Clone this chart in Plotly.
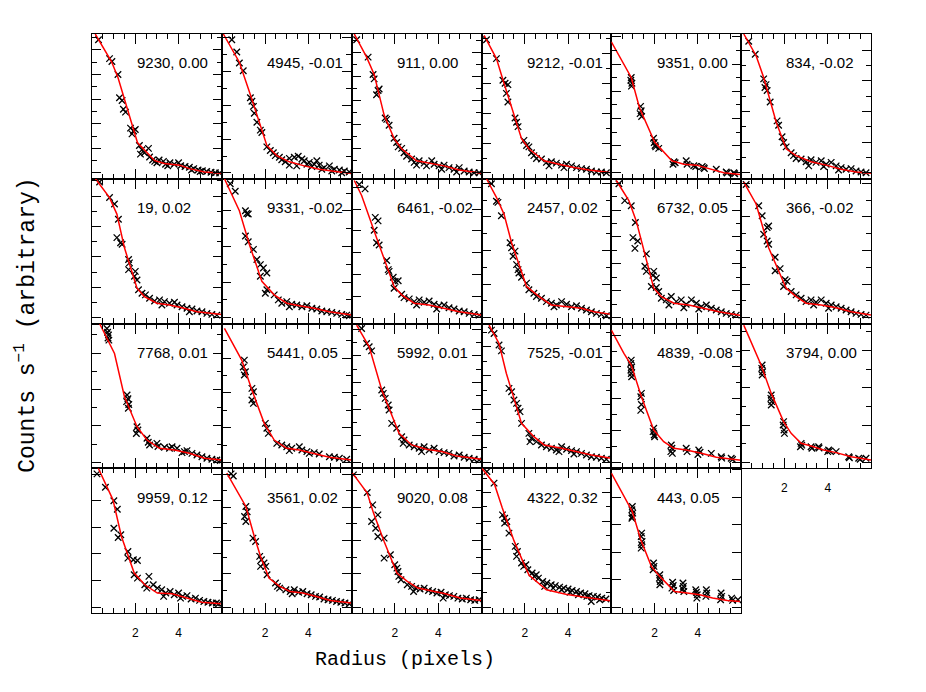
import plotly.graph_objects as go

# ---------------- data (radius in pixels, normalised counts) ----------------
ids = ["9230", "4945", "911", "9212", "9351", "834",
       "19", "9331", "6461", "2457", "6732", "366",
       "7768", "5441", "5992", "7525", "4839", "3794",
       "9959", "3561", "9020", "4322", "443"]
shifts = ["0.00", "-0.01", "0.00", "-0.01", "0.00", "-0.02",
          "0.02", "-0.02", "-0.02", "0.02", "0.05", "-0.02",
          "0.01", "0.05", "0.01", "-0.01", "-0.08", "0.00",
          "0.12", "0.02", "0.08", "0.32", "0.05"]
ytick_step = [0.085, 0.117, 0.083, 0.103, 0.094, 0.106,
              0.105, 0.123, 0.15, 0.116, 0.093, 0.116,
              0.126, 0.12, 0.092, 0.1, 0.11, 0.129,
              0.184, 0.115, 0.115, 0.099, 0.19]
x_tickvals = [0, 2, 4, 6]
x_ticktext = ["", "2", "4", ""]

pts_9230 = [(0.3,0.96),(0.81,0.83),(0.92,0.81),(1.2,0.72),(1.27,0.56),(1.39,0.54),(1.45,0.48),(1.55,0.46),(1.78,0.35),(1.85,0.31),(1.92,0.33),(2.0,0.34),(2.19,0.23),(2.24,0.17),(2.31,0.20),(2.42,0.18),(2.61,0.21),(2.66,0.15),(2.8,0.13),(2.9,0.12),(3.0,0.11),(3.1,0.13),(3.3,0.12),(3.4,0.10),(3.5,0.09),(3.6,0.11),(3.8,0.10),(4.0,0.11),(4.1,0.09),(4.3,0.085),(4.5,0.08),(4.6,0.06),(4.7,0.07),(4.9,0.06),(5.0,0.05),(5.1,0.055),(5.3,0.05),(5.5,0.045),(5.7,0.042),(5.9,0.04)]
fit_9230 = [(0.15,1.0),(0.9,0.81),(1.2,0.70),(2.1,0.25),(2.9,0.125),(3.35,0.105),(4.05,0.094),(4.5,0.07),(5.2,0.047),(6.0,0.038)]

pts_4945 = [(0.46,0.96),(0.69,0.876),(0.81,0.80),(0.99,0.746),(1.32,0.56),(1.39,0.535),(1.46,0.50),(1.50,0.453),(1.62,0.39),(1.78,0.336),(1.85,0.32),(2.08,0.22),(2.24,0.195),(2.38,0.18),(2.47,0.16),(2.66,0.148),(2.77,0.131),(2.93,0.117),(3.12,0.141),(3.35,0.148),(3.53,0.155),(3.70,0.136),(3.81,0.124),(4.04,0.113),(4.27,0.10),(4.39,0.124),(4.50,0.094),(4.73,0.077),(4.97,0.089),(5.20,0.066),(5.43,0.061),(5.66,0.054),(5.89,0.047),(3.12,0.094),(3.46,0.089),(3.93,0.10),(4.16,0.085),(4.62,0.066),(5.08,0.054),(5.54,0.042)]
fit_4945 = [(0.07,1.0),(0.81,0.805),(1.32,0.58),(2.08,0.23),(2.54,0.16),(3.12,0.117),(3.81,0.089),(4.5,0.066),(5.43,0.047),(6.0,0.038)]

pts_911 = [(0.23,0.96),(0.76,0.84),(0.99,0.72),(1.04,0.69),(1.22,0.61),(1.15,0.58),(1.27,0.62),(1.55,0.42),(1.62,0.41),(1.73,0.37),(1.96,0.28),(2.08,0.25),(2.15,0.22),(2.31,0.21),(2.42,0.18),(2.54,0.155),(2.77,0.136),(2.89,0.113),(3.12,0.124),(3.35,0.108),(3.7,0.124),(3.81,0.10),(4.04,0.089),(4.27,0.094),(4.5,0.077),(4.73,0.066),(4.97,0.077),(5.2,0.054),(5.43,0.047),(5.66,0.042),(5.89,0.042),(3.0,0.094),(3.46,0.089),(4.16,0.066),(4.85,0.047)]
fit_911 = [(0.12,1.0),(0.69,0.84),(1.04,0.72),(1.5,0.44),(1.96,0.277),(2.31,0.207),(3.0,0.124),(3.58,0.108),(4.27,0.089),(4.97,0.061),(6.0,0.038)]

pts_9212 = [(0.23,0.96),(0.69,0.83),(0.99,0.68),(1.09,0.66),(1.22,0.65),(1.15,0.59),(1.22,0.53),(1.55,0.42),(1.62,0.39),(1.69,0.36),(1.96,0.265),(2.08,0.23),(2.19,0.22),(2.31,0.18),(2.42,0.16),(2.54,0.14),(2.77,0.136),(3.0,0.113),(3.23,0.117),(3.46,0.108),(3.7,0.094),(3.93,0.10),(4.16,0.089),(4.39,0.077),(4.62,0.07),(4.85,0.066),(5.08,0.054),(5.31,0.047),(5.54,0.047),(5.77,0.042),(3.12,0.089),(3.81,0.077)]
fit_9212 = [(0.12,0.99),(0.69,0.83),(1.04,0.66),(1.85,0.277),(2.19,0.207),(2.89,0.124),(3.58,0.10),(4.27,0.077),(4.97,0.061),(6.0,0.042)]

pts_9351 = [(0.92,0.70),(0.9,0.68),(0.95,0.66),(0.93,0.64),(1.35,0.50),(1.38,0.47),(1.33,0.45),(1.4,0.43),(1.95,0.28),(1.98,0.25),(2.02,0.23),(2.05,0.22),(2.19,0.21),(2.89,0.117),(2.85,0.10),(2.95,0.11),(3.46,0.124),(3.5,0.10),(3.81,0.09),(3.9,0.085),(4.27,0.077),(4.3,0.07),(4.2,0.085),(4.85,0.066),(5.31,0.047),(5.35,0.04),(5.66,0.042),(5.7,0.035)]
fit_9351 = [(0.0,0.946),(0.92,0.70),(1.3,0.49),(2.0,0.254),(2.8,0.124),(3.35,0.10),(3.93,0.094),(4.62,0.066),(5.2,0.042),(5.95,0.03)]

pts_834 = [(0.35,0.95),(0.65,0.86),(1.04,0.69),(1.15,0.65),(1.2,0.61),(1.1,0.63),(1.34,0.53),(1.66,0.40),(1.73,0.37),(1.89,0.29),(1.96,0.25),(2.08,0.22),(2.31,0.18),(2.42,0.16),(2.54,0.14),(2.77,0.136),(3.0,0.117),(3.23,0.131),(3.46,0.113),(3.7,0.124),(3.93,0.10),(4.16,0.113),(4.39,0.089),(4.62,0.077),(4.85,0.066),(5.08,0.07),(5.31,0.054),(5.54,0.047),(5.77,0.042),(3.12,0.089),(3.81,0.085),(4.5,0.061)]
fit_834 = [(0.12,1.0),(0.69,0.85),(1.04,0.70),(1.62,0.39),(2.08,0.207),(2.54,0.16),(3.23,0.117),(3.93,0.094),(4.62,0.066),(5.31,0.047),(6.0,0.038)]

pts_19 = [(0.35,0.977),(0.81,0.87),(1.04,0.826),(1.22,0.72),(1.15,0.593),(1.32,0.558),(1.39,0.547),(1.69,0.442),(1.73,0.419),(1.69,0.372),(2.0,0.36),(2.08,0.30),(1.96,0.326),(2.15,0.233),(2.31,0.209),(2.47,0.198),(2.66,0.174),(2.89,0.156),(3.12,0.163),(3.35,0.151),(3.58,0.14),(3.81,0.147),(3.93,0.128),(4.16,0.116),(4.39,0.105),(4.62,0.10),(4.85,0.086),(5.08,0.081),(5.31,0.07),(5.54,0.063),(5.77,0.058),(3.23,0.128),(4.5,0.081)]
fit_19 = [(0.16,1.0),(0.81,0.87),(1.15,0.756),(1.5,0.523),(2.08,0.244),(2.42,0.186),(3.0,0.14),(3.58,0.128),(4.16,0.109),(4.85,0.081),(6.0,0.063)]

pts_9331 = [(0.39,0.965),(0.62,0.914),(1.09,0.779),(1.22,0.756),(1.15,0.76),(1.09,0.605),(1.22,0.565),(1.46,0.512),(1.62,0.442),(1.78,0.407),(1.92,0.384),(2.08,0.349),(1.78,0.326),(2.08,0.233),(2.01,0.209),(2.42,0.198),(2.61,0.163),(2.77,0.14),(3.0,0.151),(3.23,0.133),(3.46,0.128),(3.7,0.116),(3.93,0.123),(4.16,0.105),(4.39,0.10),(4.62,0.086),(4.85,0.081),(5.08,0.077),(5.31,0.07),(5.54,0.063),(5.77,0.058),(5.89,0.053),(3.12,0.116)]
fit_9331 = [(0.12,1.0),(0.81,0.779),(1.27,0.547),(1.85,0.291),(2.42,0.198),(3.0,0.14),(3.58,0.123),(4.27,0.105),(4.97,0.081),(6.0,0.058)]

pts_6461 = [(0.35,0.96),(0.62,0.93),(1.09,0.733),(1.22,0.709),(1.04,0.644),(1.15,0.558),(1.27,0.542),(1.62,0.435),(1.69,0.372),(1.73,0.36),(1.92,0.319),(2.01,0.291),(2.15,0.295),(1.96,0.244),(2.31,0.202),(2.42,0.179),(2.66,0.17),(2.89,0.151),(3.12,0.163),(3.35,0.147),(3.58,0.156),(3.81,0.133),(4.04,0.123),(4.27,0.128),(4.5,0.109),(4.73,0.10),(4.97,0.086),(5.2,0.081),(5.43,0.07),(5.66,0.063),(5.89,0.058),(3.0,0.128),(3.93,0.10)]
fit_6461 = [(0.12,0.988),(0.46,0.884),(1.15,0.593),(1.96,0.256),(2.31,0.198),(2.89,0.14),(3.58,0.128),(4.27,0.105),(4.97,0.081),(6.0,0.058)]

pts_2457 = [(0.46,0.965),(0.69,0.844),(0.76,0.837),(0.92,0.744),(1.32,0.558),(1.39,0.523),(1.46,0.465),(1.55,0.50),(1.62,0.407),(1.69,0.372),(1.73,0.349),(1.85,0.319),(2.08,0.279),(2.19,0.233),(2.42,0.209),(2.54,0.186),(2.77,0.174),(3.0,0.151),(3.23,0.14),(3.46,0.128),(3.7,0.151),(3.93,0.133),(4.16,0.116),(4.39,0.123),(4.62,0.105),(4.85,0.093),(5.08,0.081),(5.31,0.07),(5.54,0.063),(5.77,0.053),(3.35,0.116)]
fit_2457 = [(0.23,1.0),(0.69,0.872),(1.04,0.756),(1.39,0.558),(2.08,0.256),(2.66,0.186),(3.23,0.128),(3.93,0.116),(4.62,0.105),(5.2,0.081),(6.0,0.063)]

pts_6732 = [(0.35,0.965),(0.62,0.849),(0.92,0.814),(1.11,0.698),(1.0,0.593),(1.22,0.57),(1.09,0.519),(1.62,0.481),(1.55,0.395),(1.62,0.36),(1.96,0.36),(1.92,0.333),(2.08,0.314),(1.85,0.256),(2.08,0.249),(2.19,0.221),(2.31,0.174),(2.54,0.163),(2.77,0.186),(3.0,0.151),(3.23,0.163),(3.46,0.133),(3.7,0.163),(3.93,0.14),(4.16,0.116),(4.39,0.128),(4.62,0.105),(4.85,0.093),(5.08,0.081),(5.31,0.07),(5.54,0.063),(5.77,0.058),(2.66,0.128),(3.35,0.109),(4.04,0.10)]
fit_6732 = [(0.23,0.988),(0.81,0.849),(1.15,0.709),(1.5,0.50),(1.96,0.244),(2.31,0.186),(2.89,0.14),(3.58,0.128),(4.27,0.105),(4.97,0.081),(6.0,0.056)]

pts_366 = [(0.23,0.96),(0.81,0.814),(0.97,0.744),(1.2,0.663),(1.27,0.674),(1.04,0.616),(1.2,0.57),(1.27,0.547),(1.57,0.458),(1.57,0.365),(1.8,0.379),(2.03,0.302),(2.12,0.291),(1.96,0.256),(2.31,0.221),(2.54,0.198),(2.77,0.174),(3.0,0.151),(3.23,0.163),(3.46,0.147),(3.7,0.163),(3.93,0.14),(4.16,0.128),(4.39,0.116),(4.62,0.105),(4.85,0.093),(5.08,0.081),(5.31,0.07),(5.54,0.063),(5.77,0.058),(3.35,0.128),(4.04,0.105)]
fit_366 = [(0.12,0.977),(0.69,0.826),(1.27,0.523),(1.85,0.314),(2.08,0.244),(2.54,0.186),(3.0,0.14),(3.7,0.128),(4.39,0.109),(5.08,0.081),(6.0,0.058)]

pts_7768 = [(0.69,0.966),(0.72,0.94),(0.76,0.92),(0.74,0.90),(0.78,0.885),(1.62,0.506),(1.66,0.48),(1.6,0.46),(1.7,0.44),(1.68,0.414),(2.08,0.287),(2.12,0.264),(2.05,0.24),(2.54,0.207),(2.6,0.18),(2.66,0.161),(3.0,0.172),(3.05,0.15),(3.58,0.138),(3.7,0.149),(3.93,0.138),(4.27,0.115),(4.39,0.122),(4.62,0.103),(4.85,0.092),(5.08,0.08),(5.31,0.069),(5.54,0.062),(5.77,0.057),(5.93,0.053),(3.35,0.145),(4.16,0.108)]
fit_7768 = [(0.35,1.0),(1.04,0.793),(1.5,0.494),(2.08,0.287),(2.54,0.195),(3.12,0.138),(3.81,0.126),(4.5,0.103),(5.2,0.069),(6.0,0.057)]

pts_5441 = [(1.04,0.747),(0.99,0.70),(1.04,0.644),(1.09,0.667),(1.39,0.552),(1.46,0.529),(1.39,0.471),(1.46,0.448),(2.01,0.31),(2.08,0.276),(2.15,0.241),(2.54,0.172),(2.77,0.161),(3.0,0.149),(3.23,0.138),(3.58,0.149),(3.7,0.126),(3.93,0.115),(4.04,0.103),(4.27,0.108),(4.5,0.099),(4.97,0.08),(5.2,0.076),(5.43,0.069),(5.77,0.062),(3.12,0.122)]
fit_5441 = [(0.12,0.966),(0.92,0.747),(1.39,0.54),(1.96,0.31),(2.42,0.195),(3.0,0.138),(3.58,0.126),(4.27,0.103),(4.97,0.076),(6.0,0.057)]

pts_5992 = [(0.46,0.966),(0.69,0.862),(0.81,0.839),(0.92,0.811),(1.39,0.54),(1.46,0.517),(1.55,0.483),(1.69,0.437),(1.73,0.402),(1.85,0.31),(2.08,0.276),(2.31,0.218),(2.42,0.195),(2.38,0.172),(2.66,0.161),(2.89,0.149),(3.12,0.138),(3.35,0.149),(3.58,0.126),(3.81,0.138),(4.04,0.115),(4.27,0.108),(4.5,0.103),(4.73,0.085),(4.97,0.092),(5.2,0.076),(5.43,0.069),(5.66,0.062),(5.89,0.057),(3.23,0.115)]
fit_5992 = [(0.23,0.989),(0.81,0.839),(1.39,0.54),(2.19,0.241),(2.77,0.161),(3.46,0.131),(4.16,0.115),(4.85,0.085),(6.0,0.062)]

pts_7525 = [(0.46,0.954),(0.58,0.931),(0.81,0.851),(0.92,0.811),(1.27,0.552),(1.39,0.529),(1.5,0.471),(1.62,0.448),(1.69,0.414),(1.78,0.391),(1.85,0.31),(2.19,0.241),(2.31,0.207),(2.24,0.184),(2.54,0.184),(2.77,0.161),(3.0,0.149),(3.23,0.138),(3.46,0.126),(3.7,0.149),(3.93,0.131),(4.16,0.122),(4.39,0.115),(4.62,0.103),(4.85,0.092),(5.08,0.08),(5.31,0.076),(5.54,0.069),(5.77,0.062),(3.58,0.115),(4.27,0.099)]
fit_7525 = [(0.35,0.989),(0.81,0.862),(1.15,0.655),(1.85,0.31),(2.42,0.218),(2.89,0.161),(3.7,0.138),(4.39,0.115),(5.08,0.092),(6.0,0.069)]

pts_4839 = [(0.92,0.747),(0.9,0.724),(0.94,0.70),(0.9,0.678),(0.92,0.655),(0.94,0.632),(1.39,0.517),(1.36,0.494),(1.39,0.44),(1.36,0.40),(1.96,0.276),(1.93,0.253),(1.98,0.23),(2.0,0.218),(2.77,0.161),(2.8,0.138),(2.75,0.115),(2.82,0.103),(3.46,0.138),(3.5,0.115),(4.04,0.126),(4.1,0.11),(4.0,0.095),(4.62,0.103),(5.08,0.08),(5.1,0.07),(5.54,0.069),(5.6,0.06)]
fit_4839 = [(0.0,0.954),(0.58,0.793),(0.92,0.713),(1.39,0.494),(1.96,0.264),(2.42,0.184),(2.89,0.138),(3.46,0.126),(4.16,0.103),(4.85,0.076),(6.0,0.055)]

pts_3794 = [(0.97,0.713),(0.95,0.69),(0.99,0.667),(0.97,0.644),(1.39,0.506),(1.37,0.483),(1.41,0.46),(1.39,0.437),(1.96,0.322),(1.94,0.299),(1.98,0.264),(2.0,0.241),(2.77,0.172),(2.8,0.16),(2.74,0.149),(3.23,0.149),(3.27,0.138),(3.58,0.149),(3.6,0.14),(4.04,0.126),(4.1,0.12),(4.0,0.115),(4.39,0.115),(4.97,0.08),(5.0,0.072),(5.43,0.069),(5.5,0.062),(5.77,0.069)]
fit_3794 = [(0.12,0.989),(0.92,0.713),(1.39,0.517),(1.96,0.322),(2.31,0.241),(2.77,0.172),(3.23,0.154),(3.81,0.126),(4.39,0.108),(5.08,0.08),(6.0,0.057)]

pts_9959 = [(0.23,0.961),(0.62,0.869),(1.01,0.775),(1.17,0.717),(1.01,0.586),(1.21,0.522),(1.33,0.54),(1.66,0.425),(1.66,0.379),(1.91,0.368),(2.1,0.363),(1.95,0.264),(2.1,0.241),(2.63,0.253),(2.44,0.195),(2.53,0.172),(2.83,0.195),(3.02,0.172),(3.22,0.161),(3.41,0.138),(3.61,0.149),(3.8,0.126),(4.0,0.138),(4.19,0.115),(4.39,0.12),(4.58,0.097),(4.78,0.103),(4.97,0.087),(5.17,0.08),(5.36,0.074),(5.56,0.069),(5.75,0.069),(5.85,0.064),(3.31,0.115),(4.09,0.103)]
fit_9959 = [(0.29,1.0),(0.68,0.874),(0.97,0.782),(1.36,0.529),(1.95,0.276),(2.44,0.195),(3.02,0.138),(3.7,0.133),(4.39,0.103),(5.07,0.074),(5.95,0.064)]

pts_3561 = [(0.43,0.961),(0.53,0.947),(1.11,0.736),(1.05,0.667),(1.11,0.632),(1.17,0.70),(1.44,0.517),(1.56,0.494),(1.75,0.391),(1.83,0.368),(1.95,0.345),(2.03,0.322),(1.79,0.322),(2.09,0.264),(2.48,0.207),(2.57,0.184),(2.67,0.172),(2.96,0.161),(3.16,0.149),(3.35,0.161),(3.55,0.143),(3.74,0.149),(3.94,0.133),(4.13,0.126),(4.33,0.115),(4.52,0.11),(4.72,0.097),(4.91,0.092),(5.11,0.087),(5.3,0.08),(5.5,0.074),(5.69,0.069),(5.89,0.064),(3.25,0.133)]
fit_3561 = [(0.23,0.966),(1.11,0.736),(1.5,0.529),(1.79,0.391),(2.18,0.241),(2.67,0.184),(3.16,0.149),(3.74,0.138),(4.33,0.115),(5.01,0.087),(5.98,0.069)]

pts_9020 = [(0.08,0.954),(0.72,0.832),(0.97,0.747),(0.92,0.632),(1.11,0.586),(1.21,0.678),(1.21,0.529),(1.5,0.517),(1.5,0.379),(1.79,0.402),(1.99,0.333),(2.09,0.31),(2.14,0.287),(2.18,0.253),(2.28,0.23),(2.57,0.195),(2.77,0.184),(2.96,0.172),(3.16,0.166),(3.35,0.172),(3.55,0.156),(3.74,0.149),(3.94,0.138),(4.13,0.143),(4.33,0.126),(4.52,0.12),(4.72,0.115),(4.91,0.103),(5.11,0.097),(5.3,0.103),(5.5,0.092),(5.69,0.087),(5.89,0.092),(2.86,0.149),(4.23,0.103)]
fit_9020 = [(0.04,0.966),(0.72,0.828),(1.01,0.69),(1.5,0.494),(2.09,0.276),(2.57,0.218),(3.06,0.172),(3.65,0.156),(4.33,0.133),(5.01,0.103),(5.98,0.087)]

pts_4322 = [(0.25,0.977),(0.58,0.897),(0.97,0.678),(1.07,0.655),(1.17,0.632),(1.07,0.621),(1.27,0.552),(1.56,0.46),(1.66,0.425),(1.62,0.391),(1.85,0.345),(1.95,0.322),(2.05,0.333),(2.14,0.299),(2.34,0.276),(2.44,0.253),(2.53,0.264),(2.63,0.241),(2.83,0.218),(3.02,0.207),(3.22,0.195),(3.41,0.189),(3.61,0.179),(3.8,0.172),(4.0,0.166),(4.19,0.156),(4.39,0.149),(4.58,0.138),(4.78,0.133),(4.97,0.12),(5.07,0.08),(5.17,0.115),(5.36,0.11),(5.56,0.103),(5.75,0.097),(2.92,0.184),(3.31,0.172),(3.7,0.161),(4.09,0.143),(4.48,0.126),(4.87,0.115),(5.46,0.092)]
fit_4322 = [(0.02,1.0),(0.6,0.89),(0.95,0.73),(1.5,0.50),(1.9,0.36),(2.2,0.26),(3.0,0.16),(3.9,0.13),(4.7,0.11),(5.95,0.085)]

pts_443 = [(0.97,0.736),(0.95,0.713),(0.99,0.69),(0.97,0.667),(0.95,0.655),(1.4,0.552),(1.38,0.529),(1.42,0.494),(1.4,0.471),(1.38,0.448),(1.95,0.345),(1.97,0.322),(1.93,0.299),(2.24,0.264),(2.22,0.241),(2.26,0.218),(2.24,0.195),(2.83,0.212),(2.86,0.19),(2.8,0.172),(2.88,0.155),(3.31,0.207),(3.33,0.184),(3.3,0.166),(3.35,0.149),(3.9,0.161),(3.93,0.143),(3.97,0.126),(3.95,0.103),(4.39,0.161),(4.41,0.138),(4.37,0.115),(5.07,0.138),(5.1,0.115),(5.05,0.092),(5.56,0.103),(5.6,0.087),(5.85,0.092)]
fit_443 = [(0.0,0.966),(0.97,0.701),(1.36,0.506),(1.85,0.322),(2.24,0.253),(2.92,0.149),(3.51,0.138),(4.09,0.126),(4.68,0.103),(5.36,0.087),(5.95,0.08)]

panel_pts = [pts_9230, pts_4945, pts_911, pts_9212, pts_9351, pts_834,
             pts_19, pts_9331, pts_6461, pts_2457, pts_6732, pts_366,
             pts_7768, pts_5441, pts_5992, pts_7525, pts_4839, pts_3794,
             pts_9959, pts_3561, pts_9020, pts_4322, pts_443]
panel_fit = [fit_9230, fit_4945, fit_911, fit_9212, fit_9351, fit_834,
             fit_19, fit_9331, fit_6461, fit_2457, fit_6732, fit_366,
             fit_7768, fit_5441, fit_5992, fit_7525, fit_4839, fit_3794,
             fit_9959, fit_3561, fit_9020, fit_4322, fit_443]

# ---------------- figure ----------------
NCOL, NROW = 6, 4
fig = go.Figure()
layout = {}
annotations = []
label_font = dict(family="Liberation Sans, Arial, Helvetica, sans-serif", size=15, color="black")

for i in range(len(ids)):
    r, c = divmod(i, NCOL)
    k = i + 1
    xa = "x" if k == 1 else f"x{k}"
    ya = "y" if k == 1 else f"y{k}"
    pts = panel_pts[i]
    fit = panel_fit[i]
    fig.add_trace(go.Scatter(
        x=[p[0] for p in pts], y=[p[1] for p in pts], mode="markers",
        marker=dict(symbol="x-thin", size=6.5, line=dict(width=1.3, color="black"), color="black"),
        xaxis=xa, yaxis=ya, showlegend=False, cliponaxis=True))
    fig.add_trace(go.Scatter(
        x=[p[0] for p in fit], y=[p[1] for p in fit], mode="lines",
        line=dict(color="red", width=1.5), xaxis=xa, yaxis=ya, showlegend=False))

    show_lbl = (r == NROW - 1) or (r == NROW - 2 and c == NCOL - 1)
    step = ytick_step[i]
    major = step * 2 if step < 0.13 else step
    xkey = "xaxis" if k == 1 else f"xaxis{k}"
    ykey = "yaxis" if k == 1 else f"yaxis{k}"
    layout[xkey] = dict(
        domain=[c / NCOL, (c + 1) / NCOL], range=[0, 6], anchor=ya,
        tickmode="array", tickvals=x_tickvals, ticktext=x_ticktext,
        ticks="inside", ticklen=10, tickwidth=1.1, tickcolor="black",
        minor=dict(dtick=0.5, tick0=0, ticks="inside", ticklen=5, tickwidth=1.1, tickcolor="black"),
        showticklabels=show_lbl, ticklabelstandoff=8,
        tickfont=dict(family="Liberation Sans, Arial, sans-serif", size=12, color="black"),
        showline=True, linecolor="black", linewidth=1.4, mirror="ticks",
        showgrid=False, zeroline=False, fixedrange=True)
    layout[ykey] = dict(
        domain=[1 - (r + 1) / NROW, 1 - r / NROW], range=[0, 1], anchor=xa,
        tick0=0.04, dtick=major, ticks="inside", ticklen=9, tickwidth=1.1, tickcolor="black",
        minor=dict(dtick=step, tick0=0.04, ticks="inside", ticklen=5, tickwidth=1.1, tickcolor="black"),
        showticklabels=False,
        showline=True, linecolor="black", linewidth=1.4, mirror="ticks",
        showgrid=False, zeroline=False, fixedrange=True)
    annotations.append(dict(
        x=2.0, y=0.80, xref=xa, yref=ya, text=f"{ids[i]}, {shifts[i]}",
        showarrow=False, xanchor="left", yanchor="middle", font=label_font))

xtitle_font = dict(family="Liberation Mono, Courier New, monospace", size=20, color="black")
ytitle_font = dict(family="Liberation Mono, Courier New, monospace", size=23, color="black")
annotations.append(dict(x=0.402, y=-0.081, xref="paper", yref="paper", text="Radius (pixels)",
                        showarrow=False, xanchor="center", yanchor="middle", font=xtitle_font))
annotations.append(dict(x=-0.084, y=0.497, xref="paper", yref="paper",
                        text="Counts s<sup>\u22121</sup> (arbitrary)", textangle=-90,
                        showarrow=False, xanchor="center", yanchor="middle", font=ytitle_font))

fig.update_layout(
    width=926, height=692, autosize=False,
    margin=dict(l=92, r=55, t=34, b=79, pad=0),
    paper_bgcolor="white", plot_bgcolor="white",
    annotations=annotations, showlegend=False, **layout)

fig.write_html("out.html", config={"displayModeBar": False},
               post_script="document.body.style.margin='0px';")
